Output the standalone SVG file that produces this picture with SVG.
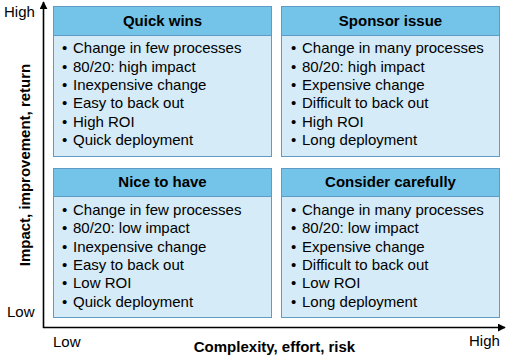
<svg xmlns="http://www.w3.org/2000/svg" width="507" height="359" viewBox="0 0 507 359">
<style>
text{font-family:"Liberation Sans",Arial,sans-serif;font-size:15px;fill:#000}
.b{font-size:15.4px}
.h{font-weight:bold;text-anchor:middle}
.hd{fill:#74C4E9;stroke:#5E9CC6;stroke-width:1}
.bd{fill:#D5EBF8;stroke:#5E9CC6;stroke-width:1}
.ax{stroke:#000;stroke-width:1.6;fill:none}
</style>
<defs>
<marker id="ar" viewBox="0 0 10 10" refX="9" refY="5" markerWidth="5" markerHeight="5" orient="auto" markerUnits="strokeWidth">
<path d="M0,0 L10,5 L0,10 z" fill="#000"/>
</marker>
</defs>
<rect width="507" height="359" fill="#fff"/>
<g id="connectors">
<path class="ax" d="M43.5,328 V2" marker-end="url(#ar)"/>
<path class="ax" d="M43,327.5 H505" marker-end="url(#ar)"/>
</g>
<g id="axis-labels">
<text x="4" y="17">High</text>
<text x="7" y="317">Low</text>
<text x="53" y="347">Low</text>
<text x="469" y="346">High</text>
<text class="h" x="274.5" y="352">Complexity, effort, risk</text>
<text class="h" transform="translate(29.5,165) rotate(-90)">Impact, improvement, return</text>
</g>
<g id="quick-wins" class="b">
<rect class="bd" x="53.5" y="6.5" width="218" height="150"/>
<rect class="hd" x="53.5" y="6.5" width="218" height="29"/>
<text class="h" x="162.5" y="26" font-size="15">Quick wins</text>
<text x="62" y="53.3">•</text><text x="73" y="53.3">Change in few processes</text>
<text x="62" y="71.6">•</text><text x="73" y="71.6">80/20: high impact</text>
<text x="62" y="90">•</text><text x="73" y="90">Inexpensive change</text>
<text x="62" y="108.3">•</text><text x="73" y="108.3">Easy to back out</text>
<text x="62" y="126.6">•</text><text x="73" y="126.6">High ROI</text>
<text x="62" y="145">•</text><text x="73" y="145">Quick deployment</text>
</g>
<g id="sponsor-issue" class="b">
<rect class="bd" x="281.5" y="6.5" width="218" height="150"/>
<rect class="hd" x="281.5" y="6.5" width="218" height="29"/>
<text class="h" x="390.5" y="26" font-size="15">Sponsor issue</text>
<text x="291" y="53.3">•</text><text x="302" y="53.3">Change in many processes</text>
<text x="291" y="71.6">•</text><text x="302" y="71.6">80/20: high impact</text>
<text x="291" y="90">•</text><text x="302" y="90">Expensive change</text>
<text x="291" y="108.3">•</text><text x="302" y="108.3">Difficult to back out</text>
<text x="291" y="126.6">•</text><text x="302" y="126.6">High ROI</text>
<text x="291" y="145">•</text><text x="302" y="145">Long deployment</text>
</g>
<g id="nice-to-have" class="b">
<rect class="bd" x="53.5" y="168.5" width="218" height="149"/>
<rect class="hd" x="53.5" y="168.5" width="218" height="28"/>
<text class="h" x="162.5" y="187" font-size="15">Nice to have</text>
<text x="62" y="215">•</text><text x="73" y="215">Change in few processes</text>
<text x="62" y="233.3">•</text><text x="73" y="233.3">80/20: low impact</text>
<text x="62" y="251.6">•</text><text x="73" y="251.6">Inexpensive change</text>
<text x="62" y="270">•</text><text x="73" y="270">Easy to back out</text>
<text x="62" y="288.3">•</text><text x="73" y="288.3">Low ROI</text>
<text x="62" y="306.6">•</text><text x="73" y="306.6">Quick deployment</text>
</g>
<g id="consider-carefully" class="b">
<rect class="bd" x="281.5" y="168.5" width="218" height="149"/>
<rect class="hd" x="281.5" y="168.5" width="218" height="28"/>
<text class="h" x="390.5" y="187" font-size="15">Consider carefully</text>
<text x="291" y="215">•</text><text x="302" y="215">Change in many processes</text>
<text x="291" y="233.3">•</text><text x="302" y="233.3">80/20: low impact</text>
<text x="291" y="251.6">•</text><text x="302" y="251.6">Expensive change</text>
<text x="291" y="270">•</text><text x="302" y="270">Difficult to back out</text>
<text x="291" y="288.3">•</text><text x="302" y="288.3">Low ROI</text>
<text x="291" y="306.6">•</text><text x="302" y="306.6">Long deployment</text>
</g>
</svg>
